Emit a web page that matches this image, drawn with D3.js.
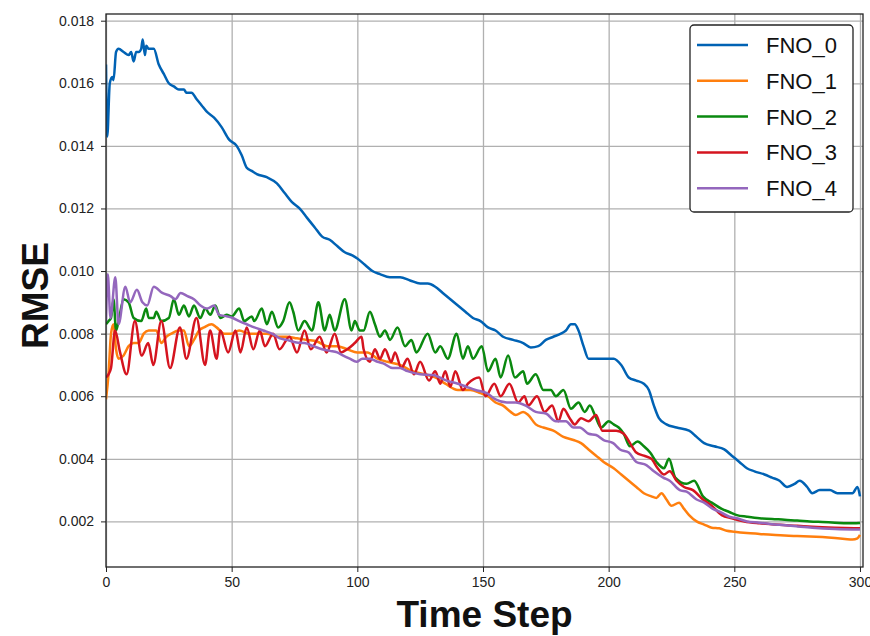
<!DOCTYPE html>
<html>
<head>
<meta charset="utf-8">
<script src="https://cdn.jsdelivr.net/npm/d3@7"></script>
<style>
  body { margin: 0; background: #fff; }
  svg { display: block; font-family: "Liberation Sans", Arial, sans-serif; }
  .tick text { fill: #222; font-size: 14px; }
</style>
</head>
<body>
<svg id="chart" width="870" height="636"></svg>
<script>
// series names and colours
const seriesNames = ["FNO_0", "FNO_1", "FNO_2", "FNO_3", "FNO_4"];
const seriesColors = ["#0062b4", "#ff7f0e", "#0a890f", "#d5141f", "#9467bd"];

const xTicks = [0, 50, 100, 150, 200, 250, 300];
const yTicks = [0.002, 0.004, 0.006, 0.008, 0.010, 0.012, 0.014, 0.016, 0.018];

// [time step, rmse]
const fno0 = [[0,0.0166],[0.5,0.0143],[1.5,0.0160],[2.5,0.0162],[3,0.0161],[4,0.0170],[5,0.0171],[7,0.0170],[9,0.0169],[10,0.0170],[11,0.0167],[12,0.0170],[13,0.0170],[14,0.0171],[14.6,0.0174],[15.5,0.0169],[16,0.0172],[17,0.0171],[19,0.0171],[21,0.0166],[23,0.0163],[25,0.0160],[27,0.0159],[29,0.0158],[31,0.0158],[32,0.0157],[34,0.0157],[36,0.0155],[38,0.0153],[40,0.0151],[43,0.0149],[46,0.0146],[49,0.0142],[52,0.0140],[54,0.0137],[56,0.0133],[58,0.0132],[60,0.0131],[64,0.0130],[68,0.0128],[71,0.0125],[74,0.0122],[77,0.0120],[80,0.0117],[83,0.0114],[86,0.0111],[89,0.0110],[92,0.0108],[95,0.0106],[98,0.0105],[100,0.0104],[103,0.0102],[106,0.0100],[109,0.0099],[113,0.0098],[117,0.0098],[121,0.0097],[125,0.0096],[128,0.0096],[131,0.0095],[134,0.0093],[137,0.0091],[140,0.0089],[143,0.0087],[146,0.0085],[149,0.0084],[152,0.0082],[155,0.0081],[158,0.0079],[162,0.0078],[166,0.0077],[169,0.00756],[172,0.0076],[175,0.0078],[178,0.0079],[181,0.0080],[183,0.0081],[185,0.0083],[186.5,0.0083],[188,0.0081],[190,0.0076],[192,0.0072],[196,0.0072],[200,0.0072],[202,0.0072],[205,0.0070],[208,0.0066],[211,0.0065],[214,0.0064],[216,0.0062],[218,0.0057],[220,0.0053],[223,0.0051],[227,0.0050],[232,0.0049],[235,0.0047],[238,0.0045],[242,0.0044],[246,0.0043],[249,0.0041],[252,0.0039],[255,0.0037],[258,0.0036],[262,0.0035],[265,0.0034],[268,0.0033],[271,0.0031],[274,0.0032],[276,0.0033],[279,0.0031],[281,0.0029],[284,0.0030],[288,0.0030],[291,0.0029],[295,0.0029],[297,0.0029],[299,0.0031],[300,0.0028]];

const fno1 = [[0,0.0059],[1,0.0067],[2,0.0080],[3,0.0083],[4,0.0075],[5,0.0072],[7,0.0073],[9,0.0076],[11,0.0077],[13,0.0077],[15,0.0080],[17,0.0081],[20,0.0081],[22,0.0077],[24,0.0079],[26,0.0080],[29,0.0081],[31,0.0081],[33,0.0076],[35,0.0078],[37,0.0081],[39,0.0082],[42,0.0083],[44,0.0082],[47,0.0080],[50,0.0080],[53,0.0081],[57,0.0080],[60,0.0080],[64,0.0080],[68,0.0079],[72,0.0079],[76,0.00785],[80,0.0078],[84,0.00775],[88,0.0076],[92,0.0076],[96,0.0075],[100,0.0074],[104,0.0074],[108,0.0072],[112,0.0071],[117,0.0070],[122,0.0068],[127,0.0067],[131,0.0066],[135,0.0064],[140,0.0062],[145,0.0062],[149,0.0061],[152,0.0060],[155,0.0058],[158,0.0057],[161,0.0055],[163,0.0054],[166,0.0055],[168,0.0054],[171,0.0051],[174,0.0050],[178,0.0049],[182,0.0047],[186,0.0046],[189,0.0045],[192,0.0043],[195,0.0041],[198,0.0039],[202,0.0037],[205,0.0035],[208,0.0033],[211,0.0031],[214,0.0029],[217,0.0028],[219,0.00275],[221,0.0029],[223,0.0027],[225,0.0025],[228,0.0026],[230,0.0024],[232,0.0022],[235,0.0020],[238,0.0019],[241,0.0018],[244,0.00178],[247,0.0017],[250,0.00167],[255,0.00163],[260,0.0016],[265,0.00157],[270,0.00155],[275,0.00153],[280,0.00152],[285,0.0015],[290,0.00147],[294,0.00144],[297,0.00142],[299,0.00146],[300,0.00157]];

const fno2 = [[0,0.0083],[1,0.0084],[2,0.0085],[3,0.0091],[4,0.0081],[5,0.0084],[7,0.0091],[9,0.0090],[11,0.0085],[14,0.0084],[16,0.0088],[17,0.0085],[19,0.0085],[20,0.0087],[22,0.0084],[25,0.0085],[27,0.0091],[29,0.0086],[31,0.0089],[33,0.00855],[35,0.0089],[37.5,0.0085],[39.5,0.0088],[41.5,0.0086],[43.5,0.0089],[45.5,0.0085],[48,0.0086],[50,0.00855],[53,0.0088],[55,0.0084],[58,0.00855],[59,0.0084],[62,0.0088],[64,0.0083],[66,0.0087],[68.5,0.0082],[70.5,0.0084],[73,0.0090],[74.5,0.0087],[76.5,0.0081],[79,0.0084],[82,0.0081],[84.5,0.0090],[87,0.0081],[89,0.0086],[91,0.0081],[95,0.0091],[97.7,0.0081],[99,0.0084],[101,0.0081],[102.5,0.0081],[105,0.0087],[107,0.0083],[109,0.0079],[111,0.0081],[113,0.0078],[116,0.0082],[119,0.0076],[121.5,0.0078],[123.5,0.0074],[128,0.0080],[131,0.0074],[133,0.0076],[136,0.0072],[139.5,0.0080],[142,0.0072],[144,0.0076],[146,0.0072],[149.5,0.0076],[152,0.0068],[155,0.0072],[157,0.0066],[160,0.0073],[162.7,0.0066],[166,0.0068],[167.5,0.0064],[171,0.0067],[174,0.0062],[177,0.0062],[179,0.0060],[182,0.0062],[185,0.0056],[188,0.0058],[190.5,0.0055],[192.5,0.0057],[194.5,0.0054],[197,0.0050],[200,0.0052],[202,0.0051],[204,0.0050],[206,0.0048],[208.5,0.0044],[211.5,0.00455],[214,0.0044],[216.5,0.0042],[219,0.0039],[222,0.0037],[224,0.0040],[226.5,0.0034],[231,0.0032],[234,0.0033],[237.5,0.0028],[241,0.0026],[245,0.0024],[248,0.0023],[251,0.0022],[255,0.00215],[260,0.0021],[265,0.00208],[270,0.00205],[275,0.00203],[280,0.002],[285,0.00198],[290,0.00196],[295,0.00194],[300,0.00195]];

const fno3 = [[0,0.0066],[1,0.0067],[2,0.0069],[3.6,0.0081],[5.6,0.0074],[8.2,0.0067],[11.5,0.0084],[14.2,0.0073],[16.8,0.0077],[18.8,0.0070],[22,0.0084],[25.5,0.0069],[29.4,0.0082],[32,0.0072],[36,0.0085],[39.4,0.0070],[41.4,0.0081],[44,0.0072],[45.5,0.0081],[48.6,0.0074],[51.5,0.0081],[53.5,0.0074],[56,0.0082],[58.6,0.0075],[61.2,0.0081],[63.2,0.0076],[66.5,0.0080],[69,0.0075],[73,0.0079],[76,0.0074],[79,0.0081],[81.5,0.0075],[85,0.0079],[87.8,0.0074],[91,0.0080],[93.5,0.0074],[96,0.0075],[99,0.0077],[101.7,0.0079],[102.5,0.0075],[105,0.0071],[107,0.0075],[109,0.0072],[111,0.0075],[113.5,0.0071],[115,0.0074],[117.5,0.0069],[120,0.0072],[122.5,0.0067],[125,0.0071],[128.5,0.0065],[131,0.0068],[133,0.0064],[135,0.0068],[137,0.0063],[139,0.0068],[142,0.0062],[144,0.0064],[148.5,0.0066],[151,0.0060],[154.5,0.0064],[157,0.0060],[160.5,0.0064],[164,0.0058],[166.5,0.0060],[168,0.0057],[171.5,0.0060],[174.5,0.0055],[177.5,0.0057],[180,0.0052],[182,0.0056],[184.5,0.0053],[186.5,0.0051],[189,0.0053],[192,0.0052],[195,0.0054],[197.5,0.0049],[200.5,0.0049],[203,0.0049],[206,0.0048],[208.5,0.0045],[211,0.0042],[214,0.0041],[217,0.0040],[219.5,0.0037],[222,0.0035],[224.3,0.0036],[227,0.0033],[230,0.0031],[233.5,0.0030],[237.5,0.0027],[241,0.0025],[245,0.0022],[249,0.0021],[254,0.0020],[260,0.00194],[268,0.00189],[275,0.00186],[281,0.00183],[290,0.0018],[300,0.00178]];

const fno4 = [[0,0.0084],[0.7,0.0099],[1.8,0.0085],[3.7,0.0098],[5,0.0083],[7.7,0.0095],[9.6,0.0090],[12.3,0.0094],[14.5,0.0090],[16.4,0.0089],[19,0.0095],[22.4,0.0093],[25.7,0.0092],[27.6,0.0091],[29.7,0.0093],[32.4,0.0092],[35,0.0091],[37.6,0.0089],[40.3,0.0088],[43,0.0089],[45,0.0086],[48.3,0.00855],[50.5,0.0085],[53,0.0084],[56,0.0083],[59,0.0082],[62.6,0.0081],[66,0.0080],[69.2,0.00785],[72,0.0078],[75.8,0.00772],[79,0.0077],[82.5,0.0076],[86,0.0075],[89.1,0.00745],[92,0.0074],[94.4,0.0073],[97,0.0072],[99.7,0.0071],[102,0.0072],[105,0.0072],[108,0.0071],[110.3,0.00705],[114,0.0069],[117,0.0069],[120,0.0068],[125,0.0067],[130,0.00668],[135.5,0.0065],[140,0.0064],[143.5,0.0063],[147,0.0062],[151.5,0.0061],[155,0.0059],[159.5,0.0058],[163,0.0058],[167,0.0057],[171,0.0055],[175,0.00545],[179,0.0052],[183,0.0052],[186,0.0050],[188.5,0.0050],[192,0.0048],[195,0.00476],[198,0.0046],[201.8,0.0045],[204.5,0.0043],[208,0.0042],[211,0.0039],[215,0.0038],[218,0.0036],[221.7,0.0034],[224.3,0.0033],[228.3,0.0030],[231,0.00295],[235,0.0027],[238,0.0026],[241.5,0.0024],[244.5,0.0023],[248,0.00215],[251,0.0021],[255,0.002],[260,0.00196],[268,0.00189],[275,0.00184],[281,0.0018],[290,0.00176],[300,0.00174]];

const allSeries = [fno0, fno1, fno2, fno3, fno4];

const svg = d3.select("#chart");
const margin = {left: 106, right: 7, top: 14, bottom: 69};
const width = 870 - margin.left - margin.right;
const height = 636 - margin.top - margin.bottom;

const x = d3.scaleLinear().domain([0, 301.2]).range([0, width]);
const y = d3.scaleLinear().domain([0.000543, 0.018214]).range([height, 0]);

const g = svg.append("g").attr("transform", `translate(${margin.left},${margin.top})`);

// grid lines
g.append("g")
    .attr("transform", `translate(0,${height})`)
    .call(d3.axisBottom(x).tickValues(xTicks).tickSize(-height).tickFormat(""))
    .call(s => s.select(".domain").remove())
    .call(s => s.selectAll("line").attr("stroke", "#b0b0b0").attr("stroke-width", 1.3));
g.append("g")
    .call(d3.axisLeft(y).tickValues(yTicks).tickSize(-width).tickFormat(""))
    .call(s => s.select(".domain").remove())
    .call(s => s.selectAll("line").attr("stroke", "#b0b0b0").attr("stroke-width", 1.3));

// lines
const line = d3.line().x(d => x(d[0])).y(d => y(d[1])).curve(d3.curveMonotoneX);
g.append("defs").append("clipPath").attr("id", "clip")
    .append("rect").attr("width", width).attr("height", height);
g.append("g").attr("clip-path", "url(#clip)")
    .selectAll("path")
    .data(allSeries)
    .join("path")
    .attr("d", line)
    .attr("fill", "none")
    .attr("stroke", (d, i) => seriesColors[i])
    .attr("stroke-width", 2.5)
    .attr("stroke-linejoin", "round");

// frame
g.append("rect").attr("width", width).attr("height", height)
    .attr("fill", "none").attr("stroke", "#222").attr("stroke-width", 1.3);

// axes
g.append("g")
    .attr("transform", `translate(0,${height})`)
    .call(d3.axisBottom(x).tickValues(xTicks).tickSize(5).tickPadding(5))
    .call(s => s.select(".domain").remove())
    .call(s => s.selectAll("line").attr("stroke", "#222"));
g.append("g")
    .call(d3.axisLeft(y).tickValues(yTicks).tickSize(5).tickPadding(7).tickFormat(d3.format(".3f")))
    .call(s => s.select(".domain").remove())
    .call(s => s.selectAll("line").attr("stroke", "#222"));

// axis titles
svg.append("text")
    .attr("x", margin.left + width / 2)
    .attr("y", 627)
    .attr("text-anchor", "middle")
    .style("font-size", "37px").style("font-weight", "bold").attr("fill", "#111")
    .text("Time Step");
svg.append("text")
    .attr("transform", `translate(48,${margin.top + height / 2 + 5}) rotate(-90)`)
    .attr("text-anchor", "middle")
    .style("font-size", "37px").style("font-weight", "bold").attr("fill", "#111")
    .text("RMSE");

// legend
const legend = svg.append("g").attr("transform", "translate(690,25)");
legend.append("rect")
    .attr("width", 163).attr("height", 187).attr("rx", 4)
    .attr("fill", "#fff").attr("stroke", "#222").attr("stroke-width", 1.3);
const rows = legend.selectAll("g.row")
    .data(seriesNames)
    .join("g")
    .attr("class", "row")
    .attr("transform", (d, i) => `translate(0,${20 + i * 35.8})`);
rows.append("line")
    .attr("x1", 7).attr("x2", 58)
    .attr("stroke", (d, i) => seriesColors[i]).attr("stroke-width", 2.5);
rows.append("text")
    .attr("x", 76).attr("dy", "0.36em")
    .style("font-size", "22px").attr("fill", "#111")
    .text(d => d);
</script>
</body>
</html>
